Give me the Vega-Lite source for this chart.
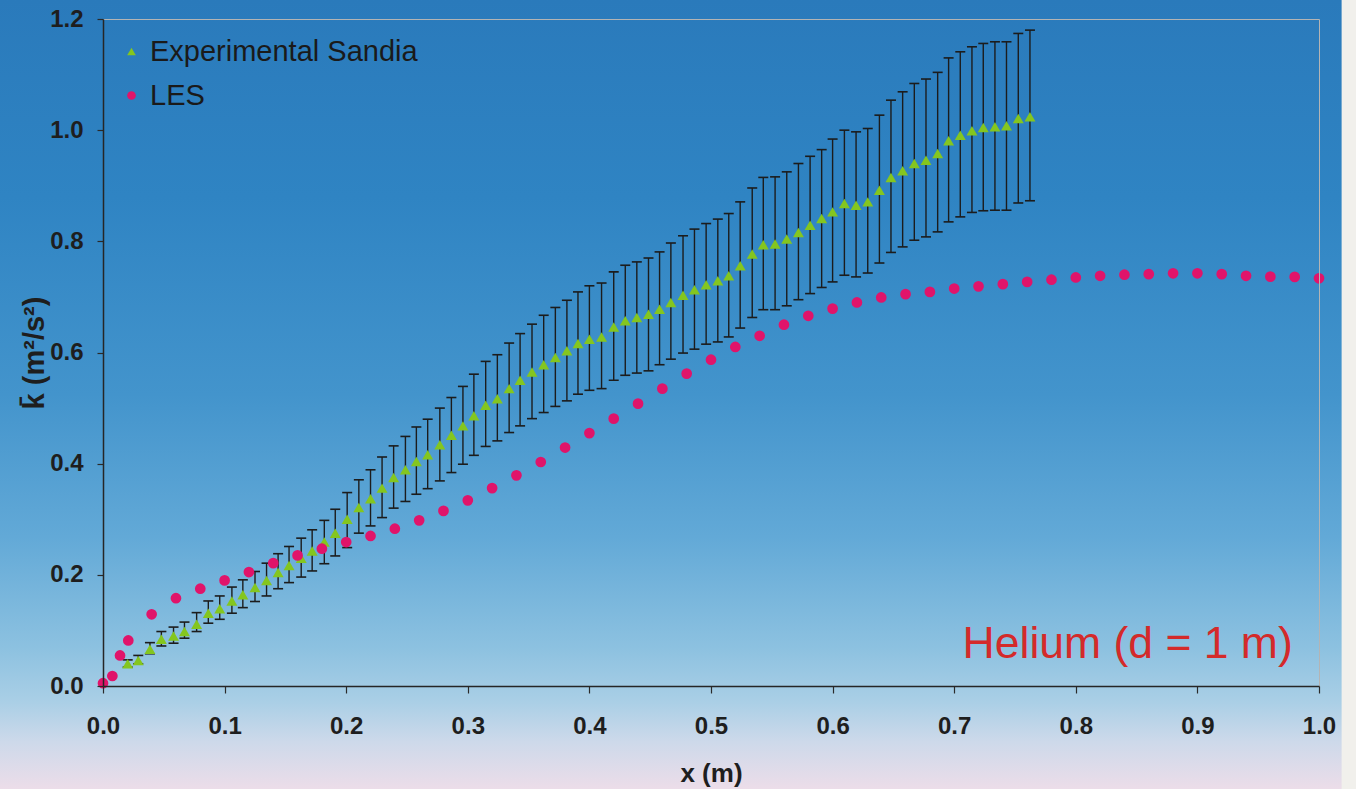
{
  "$schema": "https://vega.github.io/schema/vega-lite/v6.json",
  "width": 1216,
  "height": 667,
  "autosize": "none",
  "padding": {"left": 103, "top": 19, "right": 37, "bottom": 103},
  "background": "#f1f0ec",
  "datasets": {
    "exp": [
      {"x":0.0203,"k":0.040,"lo":0.034,"hi":0.047},
      {"x":0.029,"k":0.046,"lo":0.040,"hi":0.055},
      {"x":0.0386,"k":0.066,"lo":0.058,"hi":0.078},
      {"x":0.048,"k":0.084,"lo":0.072,"hi":0.098},
      {"x":0.058,"k":0.090,"lo":0.077,"hi":0.106},
      {"x":0.067,"k":0.098,"lo":0.086,"hi":0.115},
      {"x":0.077,"k":0.111,"lo":0.098,"hi":0.132},
      {"x":0.0866,"k":0.131,"lo":0.113,"hi":0.153},
      {"x":0.096,"k":0.139,"lo":0.120,"hi":0.162},
      {"x":0.106,"k":0.153,"lo":0.131,"hi":0.178},
      {"x":0.115,"k":0.164,"lo":0.141,"hi":0.191},
      {"x":0.125,"k":0.177,"lo":0.152,"hi":0.206},
      {"x":0.1345,"k":0.190,"lo":0.162,"hi":0.221},
      {"x":0.144,"k":0.204,"lo":0.175,"hi":0.238},
      {"x":0.153,"k":0.217,"lo":0.186,"hi":0.251},
      {"x":0.163,"k":0.230,"lo":0.196,"hi":0.266},
      {"x":0.172,"k":0.243,"lo":0.207,"hi":0.281},
      {"x":0.182,"k":0.259,"lo":0.220,"hi":0.298},
      {"x":0.191,"k":0.275,"lo":0.234,"hi":0.318},
      {"x":0.2008,"k":0.300,"lo":0.249,"hi":0.348},
      {"x":0.2104,"k":0.321,"lo":0.275,"hi":0.371},
      {"x":0.220,"k":0.337,"lo":0.288,"hi":0.389},
      {"x":0.2295,"k":0.356,"lo":0.303,"hi":0.412},
      {"x":0.239,"k":0.375,"lo":0.320,"hi":0.432},
      {"x":0.2487,"k":0.389,"lo":0.332,"hi":0.449},
      {"x":0.2577,"k":0.404,"lo":0.345,"hi":0.466},
      {"x":0.267,"k":0.416,"lo":0.355,"hi":0.480},
      {"x":0.277,"k":0.434,"lo":0.369,"hi":0.500},
      {"x":0.2865,"k":0.451,"lo":0.384,"hi":0.519},
      {"x":0.296,"k":0.468,"lo":0.399,"hi":0.539},
      {"x":0.305,"k":0.486,"lo":0.415,"hi":0.561},
      {"x":0.3147,"k":0.505,"lo":0.431,"hi":0.584},
      {"x":0.3243,"k":0.517,"lo":0.441,"hi":0.596},
      {"x":0.334,"k":0.535,"lo":0.456,"hi":0.617},
      {"x":0.343,"k":0.550,"lo":0.468,"hi":0.634},
      {"x":0.3528,"k":0.565,"lo":0.481,"hi":0.651},
      {"x":0.3624,"k":0.578,"lo":0.492,"hi":0.667},
      {"x":0.372,"k":0.591,"lo":0.503,"hi":0.681},
      {"x":0.3815,"k":0.603,"lo":0.513,"hi":0.694},
      {"x":0.3906,"k":0.616,"lo":0.525,"hi":0.709},
      {"x":0.400,"k":0.624,"lo":0.532,"hi":0.720},
      {"x":0.410,"k":0.628,"lo":0.535,"hi":0.725},
      {"x":0.420,"k":0.646,"lo":0.550,"hi":0.745},
      {"x":0.4295,"k":0.657,"lo":0.559,"hi":0.757},
      {"x":0.439,"k":0.663,"lo":0.563,"hi":0.763},
      {"x":0.4486,"k":0.669,"lo":0.567,"hi":0.770},
      {"x":0.4577,"k":0.678,"lo":0.578,"hi":0.781},
      {"x":0.467,"k":0.690,"lo":0.588,"hi":0.797},
      {"x":0.477,"k":0.703,"lo":0.599,"hi":0.810},
      {"x":0.4864,"k":0.713,"lo":0.606,"hi":0.822},
      {"x":0.496,"k":0.722,"lo":0.615,"hi":0.832},
      {"x":0.5056,"k":0.729,"lo":0.619,"hi":0.840},
      {"x":0.5146,"k":0.738,"lo":0.628,"hi":0.850},
      {"x":0.524,"k":0.756,"lo":0.644,"hi":0.871},
      {"x":0.5339,"k":0.777,"lo":0.663,"hi":0.896},
      {"x":0.543,"k":0.794,"lo":0.677,"hi":0.915},
      {"x":0.5527,"k":0.795,"lo":0.677,"hi":0.916},
      {"x":0.5623,"k":0.804,"lo":0.684,"hi":0.925},
      {"x":0.5719,"k":0.816,"lo":0.695,"hi":0.940},
      {"x":0.5815,"k":0.829,"lo":0.706,"hi":0.953},
      {"x":0.591,"k":0.841,"lo":0.717,"hi":0.965},
      {"x":0.600,"k":0.853,"lo":0.727,"hi":0.984},
      {"x":0.6097,"k":0.868,"lo":0.739,"hi":1.000},
      {"x":0.6193,"k":0.865,"lo":0.736,"hi":0.997},
      {"x":0.6289,"k":0.871,"lo":0.743,"hi":1.003},
      {"x":0.6385,"k":0.892,"lo":0.761,"hi":1.027},
      {"x":0.648,"k":0.915,"lo":0.780,"hi":1.054},
      {"x":0.6576,"k":0.927,"lo":0.790,"hi":1.069},
      {"x":0.6672,"k":0.940,"lo":0.802,"hi":1.084},
      {"x":0.6768,"k":0.946,"lo":0.808,"hi":1.092},
      {"x":0.6864,"k":0.958,"lo":0.817,"hi":1.104},
      {"x":0.6954,"k":0.981,"lo":0.835,"hi":1.130},
      {"x":0.705,"k":0.991,"lo":0.844,"hi":1.141},
      {"x":0.7146,"k":0.999,"lo":0.852,"hi":1.150},
      {"x":0.7239,"k":1.005,"lo":0.855,"hi":1.156},
      {"x":0.7335,"k":1.006,"lo":0.856,"hi":1.159},
      {"x":0.743,"k":1.008,"lo":0.856,"hi":1.159},
      {"x":0.7527,"k":1.021,"lo":0.869,"hi":1.174},
      {"x":0.7623,"k":1.024,"lo":0.873,"hi":1.180}
    ],
    "les": [
      {"x":0.0,"k":0.005},
      {"x":0.0077,"k":0.018},
      {"x":0.014,"k":0.055},
      {"x":0.0208,"k":0.082},
      {"x":0.04,"k":0.129},
      {"x":0.06,"k":0.158},
      {"x":0.08,"k":0.175},
      {"x":0.10,"k":0.190},
      {"x":0.12,"k":0.205},
      {"x":0.14,"k":0.221},
      {"x":0.16,"k":0.235},
      {"x":0.18,"k":0.247},
      {"x":0.20,"k":0.259},
      {"x":0.22,"k":0.270},
      {"x":0.24,"k":0.283},
      {"x":0.26,"k":0.298},
      {"x":0.28,"k":0.315},
      {"x":0.30,"k":0.334},
      {"x":0.32,"k":0.356},
      {"x":0.34,"k":0.379},
      {"x":0.36,"k":0.403},
      {"x":0.38,"k":0.429},
      {"x":0.40,"k":0.455},
      {"x":0.42,"k":0.481},
      {"x":0.44,"k":0.508},
      {"x":0.46,"k":0.535},
      {"x":0.48,"k":0.562},
      {"x":0.50,"k":0.587},
      {"x":0.52,"k":0.610},
      {"x":0.54,"k":0.630},
      {"x":0.56,"k":0.650},
      {"x":0.58,"k":0.666},
      {"x":0.60,"k":0.679},
      {"x":0.62,"k":0.690},
      {"x":0.64,"k":0.699},
      {"x":0.66,"k":0.705},
      {"x":0.68,"k":0.709},
      {"x":0.70,"k":0.715},
      {"x":0.72,"k":0.719},
      {"x":0.74,"k":0.723},
      {"x":0.76,"k":0.727},
      {"x":0.78,"k":0.731},
      {"x":0.80,"k":0.735},
      {"x":0.82,"k":0.738},
      {"x":0.84,"k":0.740},
      {"x":0.86,"k":0.741},
      {"x":0.88,"k":0.7425},
      {"x":0.90,"k":0.7425},
      {"x":0.92,"k":0.741},
      {"x":0.94,"k":0.738},
      {"x":0.96,"k":0.7365},
      {"x":0.98,"k":0.736},
      {"x":1.00,"k":0.7335}
    ]
  },
  "layer": [
    {
      "data": {"values": [{}]},
      "mark": {
        "type": "rect",
        "stroke": null,
        "fill": {
          "gradient": "linear", "x1": 0, "y1": 0, "x2": 0, "y2": 1,
          "stops": [
            {"offset": 0.0, "color": "#2a7abb"},
            {"offset": 0.25, "color": "#2f84c3"},
            {"offset": 0.5, "color": "#4394cc"},
            {"offset": 0.68, "color": "#62a9d7"},
            {"offset": 0.82, "color": "#8cc1e0"},
            {"offset": 0.89, "color": "#aacfe6"},
            {"offset": 0.94, "color": "#cdd9ea"},
            {"offset": 1.0, "color": "#ecdde9"}
          ]
        }
      },
      "encoding": {
        "x": {"datum": -0.085, "type": "quantitative", "axis": null},
        "x2": {"datum": 1.0186},
        "y": {"datum": -0.1853, "type": "quantitative", "axis": null},
        "y2": {"datum": 1.2343}
      }
    },
    {
      "data": {"name": "exp"},
      "mark": {"type": "rule", "color": "#1c1c1c", "strokeWidth": 1.4},
      "encoding": {
        "x": {"field": "x", "type": "quantitative", "axis": null},
        "y": {"field": "lo", "type": "quantitative", "axis": null},
        "y2": {"field": "hi"}
      }
    },
    {
      "data": {"name": "exp"},
      "mark": {"type": "tick", "orient": "horizontal", "color": "#1c1c1c", "size": 10, "thickness": 1.6, "opacity": 1},
      "encoding": {
        "x": {"field": "x", "type": "quantitative", "axis": null},
        "y": {"field": "lo", "type": "quantitative", "axis": null}
      }
    },
    {
      "data": {"name": "exp"},
      "mark": {"type": "tick", "orient": "horizontal", "color": "#1c1c1c", "size": 10, "thickness": 1.6, "opacity": 1},
      "encoding": {
        "x": {"field": "x", "type": "quantitative", "axis": null},
        "y": {"field": "hi", "type": "quantitative", "axis": null}
      }
    },
    {
      "data": {"name": "exp"},
      "transform": [{"calculate": "'Experimental Sandia'", "as": "series"}],
      "mark": {"type": "point", "filled": true, "opacity": 1, "size": 120, "strokeWidth": 0},
      "encoding": {
        "x": {"field": "x", "type": "quantitative",
          "scale": {"domain": [0, 1], "nice": false, "zero": false},
          "axis": {"title": "x (m)", "orient": "bottom", "zindex": 2, "values": [0,0.1,0.2,0.3,0.4,0.5,0.6,0.7,0.8,0.9,1.0], "format": ".1f", "tickSize": 7, "labelPadding": 21, "titlePadding": 22}},
        "y": {"field": "k", "type": "quantitative",
          "scale": {"domain": [0, 1.2], "nice": false, "zero": false},
          "axis": {"title": "k\u0304 (m\u00b2/s\u00b2)", "titleFontSize": 29, "orient": "left", "zindex": 2, "values": [0,0.2,0.4,0.6,0.8,1.0,1.2], "format": ".1f", "tickSize": 6, "labelPadding": 14, "titlePadding": 0}},
        "color": {"field": "series", "type": "nominal",
          "scale": {"domain": ["Experimental Sandia", "LES"], "range": ["#84c61f", "#e0146a"]},
          "legend": {"title": null, "orient": "none", "legendX": 14, "legendY": 18, "padding": 0, "zindex": 2,
            "labelFont": "Liberation Sans", "labelFontSize": 29, "labelColor": "#1a1a1a", "labelLimit": 600,
            "labelOffset": 4, "rowPadding": 14, "symbolSize": 75, "symbolStrokeWidth": 0}},
        "shape": {"field": "series", "type": "nominal",
          "scale": {"domain": ["Experimental Sandia", "LES"], "range": ["triangle-up", "circle"]}}
      }
    },
    {
      "data": {"name": "les"},
      "transform": [{"calculate": "'LES'", "as": "series"}],
      "mark": {"type": "point", "filled": true, "opacity": 1, "size": 115, "strokeWidth": 0},
      "encoding": {
        "x": {"field": "x", "type": "quantitative",
          "axis": {"orient": "top", "zindex": 1, "title": null, "labels": false, "ticks": false, "domainColor": "#b4b4b4", "domainWidth": 1}},
        "y": {"field": "k", "type": "quantitative",
          "axis": {"orient": "right", "zindex": 1, "title": null, "labels": false, "ticks": false, "domainColor": "#b4b4b4", "domainWidth": 1}},
        "color": {"field": "series", "type": "nominal"},
        "shape": {"field": "series", "type": "nominal"}
      }
    },
    {
      "data": {"values": [{}]},
      "mark": {"type": "text", "text": "Helium (d = 1 m)", "align": "right", "baseline": "alphabetic",
        "font": "Liberation Sans", "fontSize": 44.5, "color": "#d42a2a"},
      "encoding": {
        "x": {"datum": 0.9784, "type": "quantitative", "axis": null},
        "y": {"datum": 0.0504, "type": "quantitative", "axis": null}
      }
    }
  ],
  "resolve": {"scale": {"x": "shared", "y": "shared"}, "axis": {"x": "independent", "y": "independent"}},
  "config": {
    "view": {"stroke": null},
    "axis": {
      "grid": false,
      "domainColor": "#262626", "domainWidth": 1.5,
      "tickColor": "#2a2a2a", "tickWidth": 1.2,
      "labelFont": "Liberation Sans", "labelFontWeight": "bold", "labelFontSize": 24, "labelColor": "#1e1e1e",
      "titleFont": "Liberation Sans", "titleFontWeight": "bold", "titleFontSize": 26, "titleColor": "#1e1e1e",
      "labelFlush": false, "labelOverlap": false, "labelBound": false
    }
  }
}
